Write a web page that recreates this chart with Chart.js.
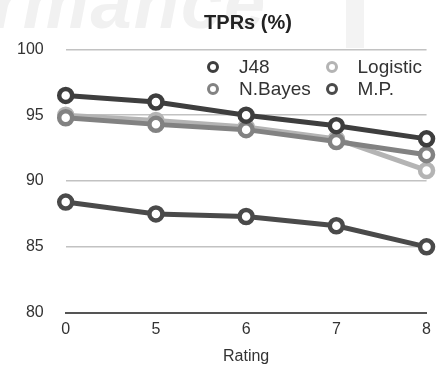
<!DOCTYPE html>
<html>
<head>
<meta charset="utf-8">
<script src="https://cdn.jsdelivr.net/npm/chart.js@4/dist/chart.umd.min.js"></script>
<style>
  html, body { margin: 0; padding: 0; background: #fff; }
  #wrap { position: relative; width: 438px; height: 366px; overflow: hidden; font-family: "Liberation Sans", Arial, sans-serif; }
  #bgword { position: absolute; left: -8px; top: -40px; font-size: 74px; font-weight: bold; font-style: italic; color: #f1f1f1; letter-spacing: 2px; white-space: nowrap; }
  #bgband { position: absolute; left: 346px; top: 0; width: 18px; height: 48px; background: #f3f3f3; }
  #chart { position: absolute; left: 0; top: 0; filter: blur(0.5px); }
  #title { position: absolute; left: 148px; width: 200px; top: 10px; text-align: center; font-size: 20px; font-weight: bold; color: #222; line-height: 24px; filter: blur(0.4px); }
  #legend { position: absolute; left: 205px; top: 56px; display: grid; grid-template-columns: 118.5px 110px; filter: blur(0.4px); }
  .item { display: flex; align-items: center; height: 22px; font-size: 19px; color: #333; }
  .mark { width: 6px; height: 6px; border-radius: 50%; border: 3.5px solid; background: #fff; margin-right: 20px; margin-left: 2px; flex: none; }
</style>
</head>
<body>
<div id="wrap">
  <div id="bgword">rmance</div>
  <div id="bgband"></div>
  <canvas id="chart" width="438" height="366"></canvas>
  <div id="title">TPRs (%)</div>
  <div id="legend"></div>
</div>
<script>
// Ratings on the x axis and TPR values (%) per classifier
const ratings = ['0', '5', '6', '7', '8'];
const j48 = [96.5, 96.0, 95.0, 94.2, 93.2];
const logistic = [95.0, 94.6, 94.1, 93.2, 90.8];
const nBayes = [94.8, 94.3, 93.9, 93.0, 92.0];
const mp = [88.4, 87.5, 87.3, 86.6, 85.0];

const seriesNames = ['J48', 'Logistic', 'N.Bayes', 'M.P.'];
const seriesValues = [j48, logistic, nBayes, mp];
const seriesColors = ['#3e3e3e', '#b4b4b4', '#828282', '#4a4a4a'];

const datasets = seriesNames.map((name, i) => ({
  label: name,
  data: seriesValues[i],
  borderColor: seriesColors[i],
  backgroundColor: '#ffffff',
  pointBackgroundColor: '#ffffff',
  pointBorderColor: seriesColors[i],
  borderWidth: 5,
  pointRadius: 6.5,
  pointBorderWidth: 4.5,
  tension: 0,
  order: [1, 3, 2, 0][i]
}));

const FONT = "'Liberation Sans', Arial, sans-serif";

new Chart(document.getElementById('chart'), {
  type: 'line',
  data: { labels: ratings, datasets },
  options: {
    responsive: false,
    animation: false,
    devicePixelRatio: 1,
    layout: { padding: { left: 0, right: 5.5, top: 49.3, bottom: 0 } },
    plugins: {
      legend: { display: false },
      tooltip: { enabled: false },
      title: { display: false }
    },
    scales: {
      x: {
        type: 'category',
        offset: false,
        grid: { display: false, drawTicks: false },
        border: { display: true, color: '#555', width: 2 },
        ticks: { color: '#333', font: { family: FONT, size: 16 }, padding: 7, maxRotation: 0 },
        title: { display: true, text: 'Rating', color: '#333', font: { family: FONT, size: 16 }, padding: { top: 4, bottom: 0 } },
        afterFit: (s) => { s.height = 53.3; }
      },
      y: {
        min: 80,
        max: 100,
        ticks: { stepSize: 5, color: '#333', font: { family: FONT, size: 16 }, padding: 22 },
        grid: {
          drawTicks: false,
          color: (c) => (c.tick && c.tick.value === 80 ? '#555' : '#c2c2c2'),
          lineWidth: (c) => (c.tick && c.tick.value === 80 ? 2 : 1.5)
        },
        border: { display: false },
        afterFit: (s) => { s.width = 65.7; }
      }
    }
  }
});

// Legend laid out in two columns, row by row
const legend = document.getElementById('legend');
seriesNames.forEach((name, i) => {
  const item = document.createElement('div');
  item.className = 'item';
  const m = document.createElement('span');
  m.className = 'mark';
  m.style.borderColor = seriesColors[i];
  const t = document.createElement('span');
  t.textContent = name;
  item.appendChild(m);
  item.appendChild(t);
  legend.appendChild(item);
});
</script>
</body>
</html>
